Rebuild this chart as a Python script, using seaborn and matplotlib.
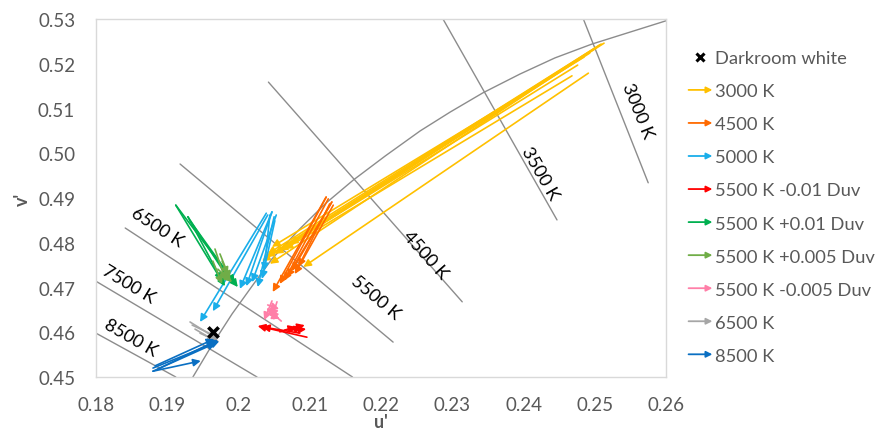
import matplotlib
matplotlib.use("Agg")
import matplotlib.pyplot as plt
import seaborn as sns
from matplotlib.patches import FancyArrowPatch
from matplotlib.lines import Line2D
from matplotlib.legend_handler import HandlerPatch

# Planckian locus (u', v')
locus_u = [0.1936, 0.1963, 0.1991, 0.2019, 0.2047, 0.2086, 0.2123, 0.2161, 0.2206,
           0.2255, 0.2297, 0.2343, 0.2395, 0.2444, 0.2496, 0.2550, 0.2600]
locus_v = [0.4500, 0.4572, 0.4641, 0.4703, 0.4764, 0.4831, 0.4889, 0.4940, 0.4994,
           0.5050, 0.5092, 0.5135, 0.5177, 0.5213, 0.5244, 0.5271, 0.5296]

# isotherm lines: (u start, v start, u end, v end)
isotherm_names = ["3000 K", "3500 K", "4500 K", "5500 K", "6500 K", "7500 K", "8500 K"]
isotherm_lines = [
    (0.2484, 0.5300, 0.2575, 0.4934),
    (0.2287, 0.5300, 0.2447, 0.4851),
    (0.2042, 0.5159, 0.2314, 0.4668),
    (0.1918, 0.4976, 0.2217, 0.4578),
    (0.1841, 0.4833, 0.2160, 0.4500),
    (0.1800, 0.4714, 0.2026, 0.4500),
    (0.1800, 0.4598, 0.1912, 0.4500),
]
isotherm_label_pos = [(0.2560, 0.5097), (0.2423, 0.4956), (0.2262, 0.4775),
                      (0.2192, 0.4679), (0.1886, 0.4835), (0.1845, 0.4708),
                      (0.1848, 0.4589)]
isotherm_label_rot = [-68, -60, -48, -40, -33, -31, -30]

darkroom_u = [0.1964]
darkroom_v = [0.4600]

# colour shifts: (u from, v from, u to, v to)
arrows_3000k = [
    (0.2513, 0.5246, 0.2033, 0.4759),
    (0.2507, 0.5242, 0.2039, 0.4768),
    (0.2503, 0.5237, 0.2044, 0.4753),
    (0.2499, 0.5233, 0.2051, 0.4775),
    (0.2493, 0.5224, 0.2058, 0.4782),
    (0.2485, 0.5215, 0.2047, 0.4791),
    (0.2468, 0.5173, 0.2065, 0.4786),
    (0.2491, 0.5179, 0.2091, 0.4746),
    (0.2509, 0.5244, 0.2041, 0.4775),
    (0.2476, 0.5197, 0.2072, 0.4797),
]
arrows_4500k = [
    (0.2123, 0.4902, 0.2048, 0.4690),
    (0.2123, 0.4902, 0.2058, 0.4708),
    (0.2131, 0.4891, 0.2068, 0.4723),
    (0.2131, 0.4891, 0.2075, 0.4737),
    (0.2128, 0.4887, 0.2084, 0.4746),
    (0.2126, 0.4898, 0.2064, 0.4715),
    (0.2133, 0.4884, 0.2079, 0.4730),
]
arrows_5000k = [
    (0.2039, 0.4866, 0.1946, 0.4623),
    (0.2041, 0.4862, 0.1964, 0.4647),
    (0.2047, 0.4869, 0.2002, 0.4697),
    (0.2047, 0.4869, 0.2011, 0.4703),
    (0.2050, 0.4858, 0.2027, 0.4701),
    (0.2051, 0.4849, 0.2033, 0.4719),
    (0.2044, 0.4862, 0.2036, 0.4737),
    (0.2053, 0.4862, 0.2019, 0.4712),
]
arrows_5500k_m010 = [
    (0.2096, 0.4589, 0.2027, 0.4614),
    (0.2086, 0.4598, 0.2033, 0.4612),
    (0.2058, 0.4601, 0.2093, 0.4616),
    (0.2072, 0.4603, 0.2089, 0.4612),
    (0.2079, 0.4605, 0.2095, 0.4607),
    (0.2065, 0.4605, 0.2081, 0.4612),
]
arrows_5500k_p010 = [
    (0.1912, 0.4884, 0.1999, 0.4701),
    (0.1912, 0.4884, 0.1981, 0.4703),
    (0.1929, 0.4858, 0.1988, 0.4715),
    (0.1929, 0.4858, 0.1977, 0.4715),
    (0.1932, 0.4849, 0.1995, 0.4710),
]
arrows_5500k_p005 = [
    (0.1967, 0.4786, 0.1982, 0.4715),
    (0.1974, 0.4775, 0.1988, 0.4719),
    (0.1964, 0.4759, 0.1977, 0.4708),
    (0.1977, 0.4759, 0.1985, 0.4728),
    (0.1971, 0.4741, 0.1991, 0.4712),
]
arrows_5500k_m005 = [
    (0.2047, 0.4670, 0.2036, 0.4627),
    (0.2054, 0.4668, 0.2047, 0.4633),
    (0.2037, 0.4645, 0.2058, 0.4630),
    (0.2041, 0.4661, 0.2057, 0.4652),
    (0.2050, 0.4641, 0.2039, 0.4654),
    (0.2060, 0.4625, 0.2044, 0.4647),
]
arrows_6500k = [
    (0.1932, 0.4623, 0.1970, 0.4585),
    (0.1935, 0.4616, 0.1971, 0.4589),
    (0.1939, 0.4607, 0.1968, 0.4580),
    (0.1946, 0.4598, 0.1973, 0.4578),
]
arrows_8500k = [
    (0.1880, 0.4520, 0.1973, 0.4580),
    (0.1880, 0.4513, 0.1968, 0.4576),
    (0.1883, 0.4525, 0.1966, 0.4585),
    (0.1880, 0.4513, 0.1947, 0.4536),
    (0.1887, 0.4518, 0.1971, 0.4583),
]

series_names = ["3000 K", "4500 K", "5000 K", "5500 K -0.01 Duv", "5500 K +0.01 Duv",
                "5500 K +0.005 Duv", "5500 K -0.005 Duv", "6500 K", "8500 K"]
series_arrows = [arrows_3000k, arrows_4500k, arrows_5000k, arrows_5500k_m010,
                 arrows_5500k_p010, arrows_5500k_p005, arrows_5500k_m005,
                 arrows_6500k, arrows_8500k]
palette = ["#FFC000", "#FF6A00", "#1AAEEA", "#FF0000", "#00B050",
           "#70AD47", "#FF7FA8", "#A6A6A6", "#0A6FC2"]

x_ticks = [0.18, 0.19, 0.20, 0.21, 0.22, 0.23, 0.24, 0.25, 0.26]
x_tick_labels = ["0.18", "0.19", "0.2", "0.21", "0.22", "0.23", "0.24", "0.25", "0.26"]
y_ticks = [0.45, 0.46, 0.47, 0.48, 0.49, 0.50, 0.51, 0.52, 0.53]
y_tick_labels = ["0.45", "0.46", "0.47", "0.48", "0.49", "0.50", "0.51", "0.52", "0.53"]


class HandlerArrow(HandlerPatch):
    def create_artists(self, legend, orig_handle, xdescent, ydescent, width, height, fontsize, trans):
        y = height / 2 - ydescent
        p = FancyArrowPatch((-xdescent, y), (width - xdescent, y), arrowstyle="-|>",
                            mutation_scale=9, color=orig_handle.get_edgecolor(), lw=1.3,
                            shrinkA=0, shrinkB=0)
        p.set_transform(trans)
        return [p]


sns.set_theme(style="white")
plt.rcParams["font.family"] = ["Lato", "DejaVu Sans"]

fig = plt.figure(figsize=(8.79, 4.35), dpi=100)
ax = fig.add_axes([0.1092, 0.131, 0.6485, 0.823])

sns.lineplot(x=locus_u, y=locus_v, sort=False, estimator=None, color="#8C8C8C", lw=1.0, ax=ax)
for (u0, v0, u1, v1), name, (lu, lv), rot in zip(isotherm_lines, isotherm_names,
                                                  isotherm_label_pos, isotherm_label_rot):
    ax.plot([u0, u1], [v0, v1], color="#8C8C8C", lw=1.0)
    ax.text(lu, lv, name, rotation=rot, rotation_mode="anchor", ha="center", va="center",
            fontsize=13, color="black")

handles = []
for name, arrows, color in zip(series_names, series_arrows, palette):
    for u0, v0, u1, v1 in arrows:
        ax.annotate("", xy=(u1, v1), xytext=(u0, v0),
                    arrowprops=dict(arrowstyle="-|>", color=color, lw=1.2,
                                    mutation_scale=11, shrinkA=0, shrinkB=0))
    handles.append(FancyArrowPatch((0, 0), (1, 1), color=color, label=name))

sns.scatterplot(x=darkroom_u, y=darkroom_v, marker="x", s=55, color="black",
                linewidth=2.6, zorder=10, ax=ax)

ax.set_xlim(0.18, 0.26)
ax.set_ylim(0.45, 0.53)
ax.set_xticks(x_ticks)
ax.set_xticklabels(x_tick_labels)
ax.set_yticks(y_ticks)
ax.set_yticklabels(y_tick_labels)
ax.tick_params(axis="both", length=0, labelsize=13.5, labelcolor="#595959")
ax.tick_params(axis="x", pad=14)
ax.tick_params(axis="y", pad=15)
for s in ax.spines.values():
    s.set_color("#D9D9D9")
    s.set_linewidth(1.0)
ax.set_xlabel("u'", fontsize=13, fontweight="bold", color="#595959", labelpad=0)
ax.set_ylabel("v'", fontsize=13, fontweight="bold", color="#595959", labelpad=5)

dark = Line2D([], [], marker="x", linestyle="none", color="black", markersize=6,
              markeredgewidth=2.2, label="Darkroom white")
ax.legend(handles=[dark] + handles, handler_map={FancyArrowPatch: HandlerArrow()},
          loc="upper left", bbox_to_anchor=(0.775, 0.899), bbox_transform=fig.transFigure,
          frameon=False, fontsize=13.2, labelcolor="#595959", handlelength=1.3,
          handletextpad=0.12, labelspacing=0.93, borderaxespad=0)

fig.savefig("out.png", dpi=100)
